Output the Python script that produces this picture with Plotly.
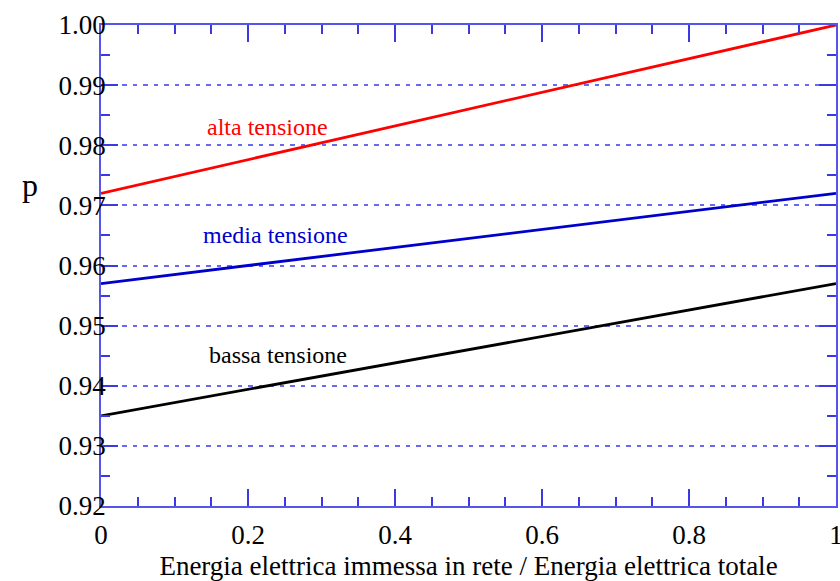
import plotly.graph_objects as go

# Share of energy fed into the grid (x) and resulting coefficient p for each voltage level
x_vals = [0.0, 1.0]
p_alta = [0.972, 1.000]
p_media = [0.957, 0.972]
p_bassa = [0.935, 0.957]

series_names = ["alta tensione", "media tensione", "bassa tensione"]
series_colors = ["#ff0000", "#0000cc", "#000000"]
label_x = [0.226, 0.237, 0.241]
label_y = [0.9830, 0.9651, 0.9451]

x_ticks = [0, 0.2, 0.4, 0.6, 0.8, 1]
x_ticktext = ["0", "0.2", "0.4", "0.6", "0.8", "1"]
y_ticks = [0.92, 0.93, 0.94, 0.95, 0.96, 0.97, 0.98, 0.99, 1.00]
y_ticktext = ["0.92", "0.93", "0.94", "0.95", "0.96", "0.97", "0.98", "0.99", "1.00"]

axis_color = "#5555ee"
tick_color = "#3a3ae0"
grid_color = "#6868f2"
font_family = "Liberation Serif"

fig = go.Figure()
for name, ys, col in zip(series_names, [p_alta, p_media, p_bassa], series_colors):
    fig.add_trace(go.Scatter(x=x_vals, y=ys, mode="lines", name=name,
                             line=dict(color=col, width=2.8), showlegend=False))

for name, col, lx, ly in zip(series_names, series_colors, label_x, label_y):
    fig.add_annotation(x=lx, y=ly, text=name, showarrow=False,
                       font=dict(family=font_family, size=24, color=col))

common = dict(
    zeroline=False, automargin=False,
    showline=True, linecolor=axis_color, linewidth=1.5, mirror="ticks",
    ticks="inside", ticklen=17, tickwidth=1.5, tickcolor=tick_color,
    tickfont=dict(family=font_family, size=27, color="black"),
    ticklabeloverflow="allow",
)

fig.update_xaxes(
    range=[0, 1], tickvals=x_ticks, ticktext=x_ticktext, showgrid=False,
    minor=dict(ticks="inside", ticklen=9, tickwidth=1.5, tickcolor=tick_color, dtick=0.05, showgrid=False),
    title=dict(text="Energia elettrica immessa in rete / Energia elettrica totale",
               font=dict(family=font_family, size=27, color="black"), standoff=8),
    ticklabelstandoff=4,
    **common,
)
fig.update_yaxes(
    range=[0.92, 1.0], tickvals=y_ticks, ticktext=y_ticktext,
    showgrid=True, gridcolor=grid_color, griddash="4.5px,6px", gridwidth=1.6,
    minor=dict(ticks="inside", ticklen=9, tickwidth=1.5, tickcolor=tick_color, dtick=0.005, showgrid=False),
    ticklabelstandoff=-12,
    **common,
)

fig.add_annotation(x=-0.110, y=0.709, xref="paper", yref="paper", text="p", showarrow=False,
                   font=dict(family=font_family, size=32, color="black"))

fig.update_layout(
    width=840, height=581,
    margin=dict(l=101, r=4, t=25, b=75),
    plot_bgcolor="white", paper_bgcolor="white",
    font=dict(family=font_family, color="black"),
)

fig.write_html("out.html")
